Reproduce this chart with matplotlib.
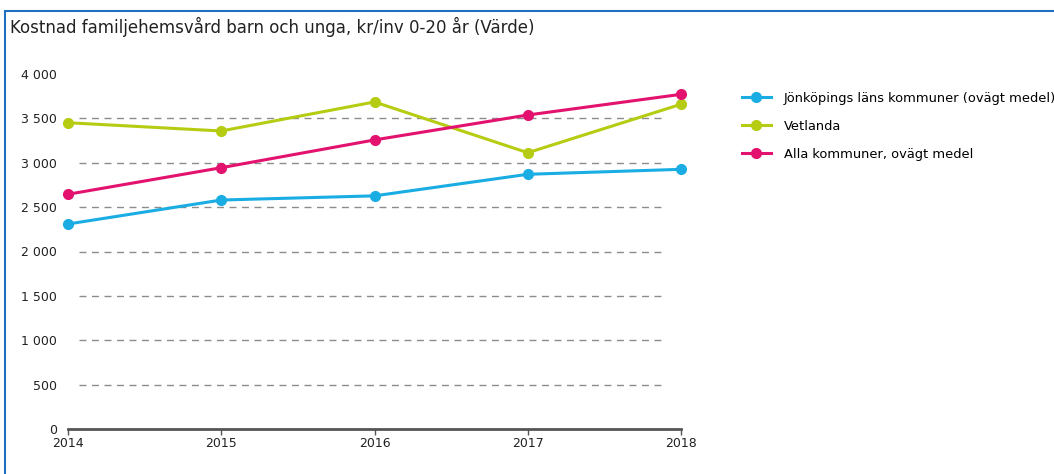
import matplotlib.pyplot as plt
from matplotlib.patches import Rectangle

# data
years = [2014, 2015, 2016, 2017, 2018]
jonkoping = [2310, 2580, 2627, 2870, 2926]
vetlanda = [3451, 3358, 3685, 3113, 3659]
alla = [2645, 2944, 3257, 3538, 3771]
y_ticks = [0, 500, 1000, 1500, 2000, 2500, 3000, 3500, 4000]
y_labels = ["0", "500", "1 000", "1 500", "2 000", "2 500", "3 000", "3 500", "4 000"]

series = [
    ("Jönköpings läns kommuner (ovägt medel)", jonkoping, "#1aade3"),
    ("Vetlanda", vetlanda, "#b5cc12"),
    ("Alla kommuner, ovägt medel", alla, "#e3126e"),
]

fig = plt.figure(figsize=(10.54, 4.74), dpi=100)

# blue frame around the panel (left and top visible)
fig.patches.append(Rectangle((5 / 1054, -0.1), 1.2, (474 - 11) / 474 + 0.1,
                             transform=fig.transFigure, fill=False,
                             edgecolor="#1f6fc0", linewidth=1.5))

fig.text(10 / 1054, 1 - 27 / 474, "Kostnad familjehemsvård barn och unga, kr/inv 0-20 år (Värde)",
         fontsize=12, color="#222222", va="center", ha="left", family="DejaVu Sans")

ax = fig.add_axes([68 / 1054, 45 / 474, 613 / 1054, 355 / 474])

# dashed grid lines, a bit shorter than the axis
for v in y_ticks[1:-1]:
    ax.hlines(v, 2014.07, 2017.9, colors="#8c8c8c", linestyles=(0, (5, 4)), linewidth=1.0, zorder=1)

for label, vals, color in series:
    ax.plot(years, vals, color=color, linewidth=2.2, marker="o", markersize=7,
            label=label, zorder=3, clip_on=False)

ax.set_xlim(2014, 2018)
ax.set_ylim(0, 4000)
ax.set_xticks(years)
ax.set_xticklabels([str(y) for y in years])
ax.set_yticks(y_ticks)
ax.set_yticklabels(y_labels)

for s in ["top", "right", "left"]:
    ax.spines[s].set_visible(False)
ax.spines["bottom"].set_color("#555555")
ax.spines["bottom"].set_linewidth(2)

ax.tick_params(axis="y", length=0, pad=8, labelsize=9, labelcolor="#222222")
ax.tick_params(axis="x", length=4, width=1, color="#555555", direction="out", pad=2,
               labelsize=9, labelcolor="#222222")

leg = fig.legend(loc="upper left", bbox_to_anchor=(742 / 1054, 1 - 92 / 474),
                 frameon=False, fontsize=9.4, handlelength=2.2, handletextpad=1.0,
                 labelspacing=1.15, borderaxespad=0, borderpad=0)

fig.savefig("out.png", dpi=100)
